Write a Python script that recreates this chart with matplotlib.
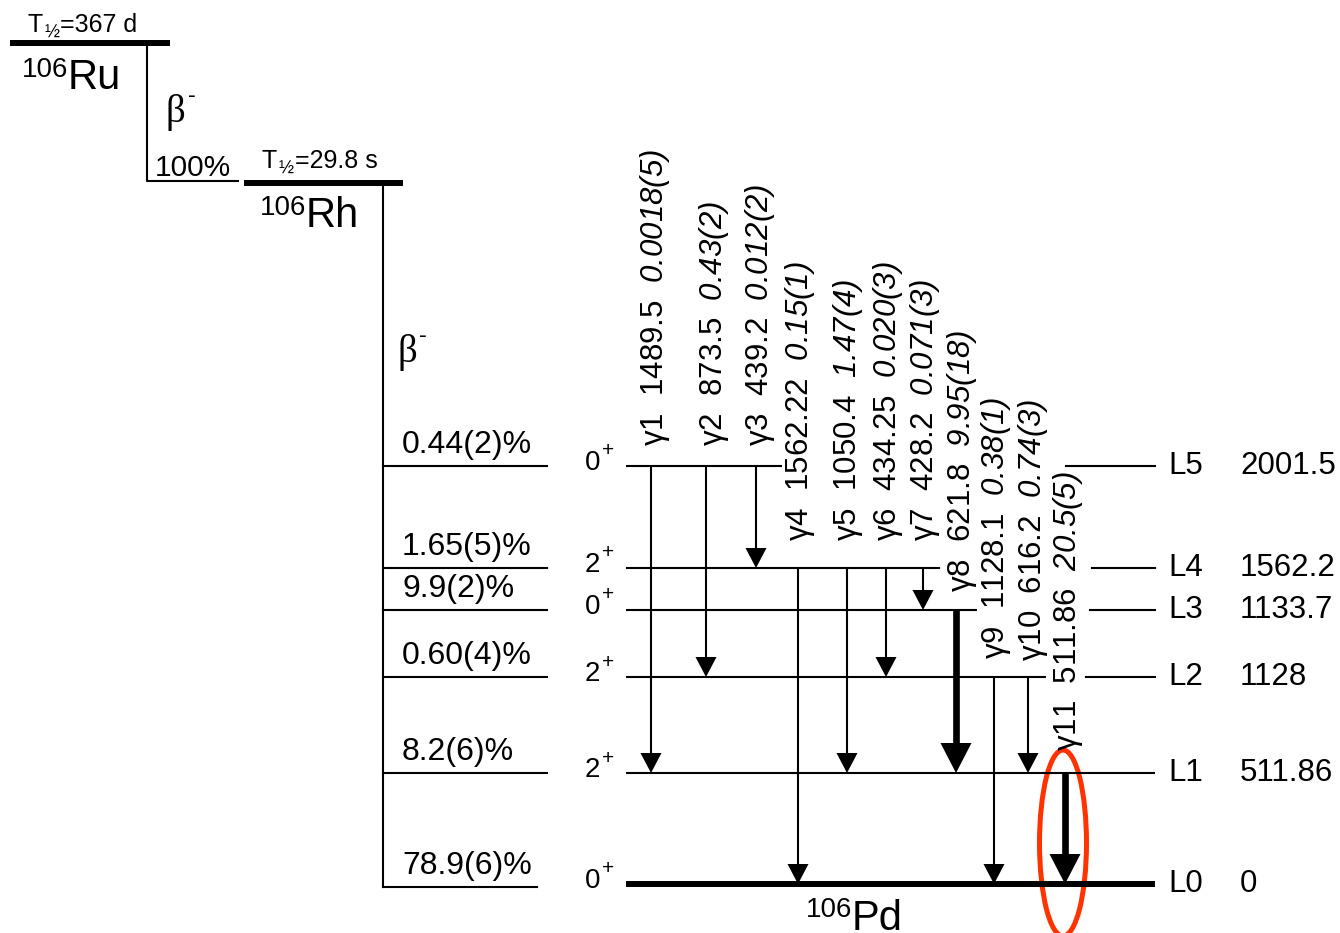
import matplotlib
matplotlib.use("Agg")
import matplotlib.pyplot as plt
from matplotlib.patches import Ellipse

plt.rcParams['font.family'] = ['Liberation Sans', 'DejaVu Sans']
plt.rcParams['mathtext.fontset'] = 'custom'
plt.rcParams['mathtext.rm'] = 'Liberation Sans'
plt.rcParams['mathtext.it'] = 'Liberation Sans:italic'
plt.rcParams['mathtext.sf'] = 'Liberation Sans:italic'
plt.rcParams['mathtext.bf'] = 'Liberation Sans:bold'

# ---------------- data ----------------
levels = ['L0', 'L1', 'L2', 'L3', 'L4', 'L5']
level_energies = ['0', '511.86', '1128', '1133.7', '1562.2', '2001.5']
level_spins = ['0', '2', '2', '0', '2', '0']
level_parities = ['+', '+', '+', '+', '+', '+']
beta_feeds = ['78.9(6)%', '8.2(6)%', '0.60(4)%', '9.9(2)%', '1.65(5)%', '0.44(2)%']

gamma_names = ['γ1', 'γ2', 'γ3', 'γ4', 'γ5', 'γ6', 'γ7', 'γ8', 'γ9', 'γ10', 'γ11']
gamma_from = [5, 5, 5, 4, 4, 4, 4, 3, 2, 2, 1]
gamma_to = [1, 2, 4, 0, 1, 2, 3, 1, 0, 1, 0]
gamma_energies = ['1489.5', '873.5', '439.2', '1562.22', '1050.4', '434.25', '428.2',
                  '621.8', '1128.1', '616.2', '511.86']
gamma_intensities = ['0.0018(5)', '0.43(2)', '0.012(2)', '0.15(1)', '1.47(4)', '0.020(3)',
                     '0.071(3)', '9.95(18)', '0.38(1)', '0.74(3)', '20.5(5)']
gamma_intensity_values = [0.0018, 0.43, 0.012, 0.15, 1.47, 0.020, 0.071, 9.95, 0.38, 0.74, 20.5]

parent_halflife = '=367 d'
daughter_halflife = '=29.8 s'
parent_branch = '100%'

# ---------------- layout (pixel positions) ----------------
level_y = [884, 773, 677, 610, 568, 466]
level_left = 626
level_main_right = [1155, 1155, 1046, 977, 940, 782]
level_stub_left = [None, None, 1086, 1090, 1092, 1066]
level_stub_right = 1155
gamma_x = [651, 706, 756, 798, 847, 886, 923, 956, 994, 1028, 1065]
gamma_label_x = [655, 714, 760, 800, 848, 888, 925, 962, 996, 1033, 1068]
gamma_label_bottom = [446, 446, 446, 541, 541, 541, 541, 592, 659, 661, 751]

fig = plt.figure(figsize=(13.4, 9.33), dpi=100)
ax = fig.add_axes([0, 0, 1, 1])
ax.set_xlim(0, 1340)
ax.set_ylim(933, 0)
ax.axis('off')

K = 'black'
thin = 1.5
FS = 22.5

# ---------------- Ru -> Rh ----------------
ax.plot([10, 170], [43, 43], color=K, lw=4.3, solid_capstyle='butt')
ax.text(28, 32, 'T', fontsize=18, ha='left', va='baseline')
ax.text(44, 38, '½', fontsize=13, ha='left', va='baseline')
ax.text(60, 32, parent_halflife, fontsize=18, ha='left', va='baseline')
ax.text(68, 89, 'Ru', fontsize=30, ha='left', va='baseline')
ax.text(68, 77, '106', fontsize=20, ha='right', va='baseline')
ax.plot([147, 147, 238], [43, 181, 181], color=K, lw=thin)
ax.text(166, 122, 'β', fontsize=28, family='Liberation Serif', ha='left', va='baseline')
ax.text(188, 102, '-', fontsize=17, ha='left', va='baseline')
ax.text(155, 176, parent_branch, fontsize=21.5, ha='left', va='baseline')

ax.plot([244, 403], [183, 183], color=K, lw=4.3, solid_capstyle='butt')
ax.text(262, 168, 'T', fontsize=18, ha='left', va='baseline')
ax.text(278, 174, '½', fontsize=13, ha='left', va='baseline')
ax.text(295, 168, daughter_halflife, fontsize=18, ha='left', va='baseline')
ax.text(306, 227, 'Rh', fontsize=30, ha='left', va='baseline')
ax.text(306, 215, '106', fontsize=20, ha='right', va='baseline')
ax.plot([383, 383], [183, level_y[0] + 3], color=K, lw=thin)
ax.text(397, 362, 'β', fontsize=28, family='Liberation Serif', ha='left', va='baseline')
ax.text(419, 342, '-', fontsize=17, ha='left', va='baseline')

# beta branches
for i, feed in enumerate(beta_feeds):
    y = level_y[i] + (3 if i == 0 else 0)
    right = 537 if i == 0 else 547
    ax.plot([383, right], [y, y], color=K, lw=thin)
    ax.text(402, y - 6, feed, fontsize=23, ha='left', va='bottom')

# ---------------- Pd levels ----------------
for i, name in enumerate(levels):
    y = level_y[i]
    lw = 4.3 if i == 0 else thin
    ax.plot([level_left, level_main_right[i]], [y, y], color=K, lw=lw, solid_capstyle='butt')
    if level_stub_left[i] is not None:
        ax.plot([level_stub_left[i], level_stub_right], [y, y], color=K, lw=thin)
    ax.text(585, y - 3, level_spins[i], fontsize=20, ha='left', va='center')
    ax.text(602, y - 15, level_parities[i], fontsize=15, ha='left', va='center')
    ax.text(1168, y, name, fontsize=FS, ha='left', va='center')
    ax.text(1240, y, level_energies[i], fontsize=FS, ha='left', va='center')

ax.text(852, 930, 'Pd', fontsize=30, ha='left', va='baseline')
ax.text(852, 917, '106', fontsize=20, ha='right', va='baseline')

# ---------------- gamma transitions ----------------
for k in range(len(gamma_names)):
    x = gamma_x[k]
    y0 = level_y[gamma_from[k]]
    y1 = level_y[gamma_to[k]]
    strong = gamma_intensity_values[k] > 5
    hl = 30 if strong else 20
    hw = 31 if strong else 21
    lw = 4.8 if strong else thin
    ax.plot([x, x], [y0, y1 - hl + 2], color=K, lw=lw, solid_capstyle='butt')
    ax.fill([x - hw / 2, x + hw / 2, x], [y1 - hl, y1 - hl, y1], color=K, lw=0)
    label = (gamma_names[k] + '  ' + gamma_energies[k] + '  '
             + r'$\mathsf{' + gamma_intensities[k] + '}$')
    ax.text(gamma_label_x[k], gamma_label_bottom[k], label, fontsize=22.5,
            rotation=90, ha='center', va='bottom')

# highlight
ax.add_patch(Ellipse((1063, 843), 47, 186, fill=False, ec='#ff3300', lw=3.6))

fig.savefig('out.png', dpi=100)
